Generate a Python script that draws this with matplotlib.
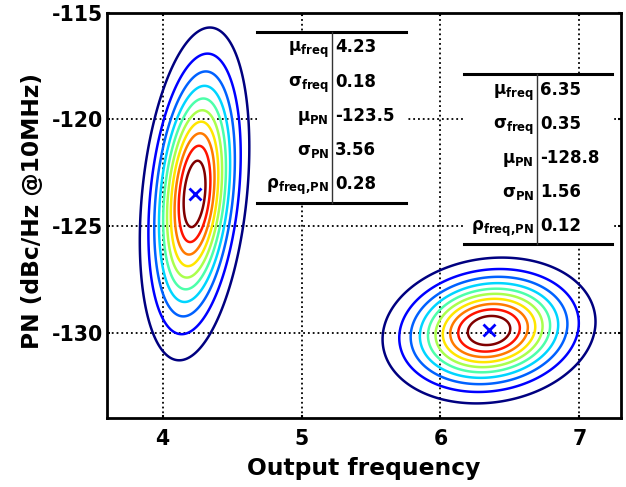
import numpy as np
import matplotlib
matplotlib.use('Agg')
import matplotlib.pyplot as plt
from matplotlib.patches import Rectangle

plt.rcParams['font.family'] = ['DejaVu Sans']
plt.rcParams['font.weight'] = 'bold'
plt.rcParams['axes.unicode_minus'] = False
plt.rcParams['mathtext.fontset'] = 'custom'
plt.rcParams['mathtext.rm'] = 'DejaVu Sans:bold'
plt.rcParams['mathtext.it'] = 'DejaVu Sans:bold'
plt.rcParams['mathtext.bf'] = 'DejaVu Sans:bold'

# distribution parameters (as drawn)
mu_freq = [4.23, 6.35]
sig_freq = [0.18, 0.35]
mu_pn = [-123.5, -129.9]
sig_pn = [3.56, 1.56]
rho = [0.28, 0.12]

# table contents
row_labels = ['μ$_{freq}$', 'σ$_{freq}$', 'μ$_{PN}$', 'σ$_{PN}$', 'ρ$_{freq{,}PN}$']
table1_vals = ['4.23', '0.18', '-123.5', '3.56', '0.28']
table2_vals = ['6.35', '0.35', '-128.8', '1.56', '0.12']

xticks = [4, 5, 6, 7]
yticks = [-130, -125, -120, -115]

fig = plt.figure(figsize=(6.26, 4.87), dpi=100)
ax = fig.add_axes([0.171, 0.1417, 0.821, 0.8326])

n_levels = 10
levels = np.arange(1, n_levels + 1) / (n_levels + 1)
for mx, sx, my, sy, r in zip(mu_freq, sig_freq, mu_pn, sig_pn, rho):
    xs = np.linspace(mx - 3 * sx, mx + 3 * sx, 300)
    ys = np.linspace(my - 3 * sy, my + 3 * sy, 300)
    X, Y = np.meshgrid(xs, ys)
    u = (X - mx) / sx
    v = (Y - my) / sy
    Z = np.exp(-(u**2 - 2 * r * u * v + v**2) / (2 * (1 - r**2)))
    ax.contour(X, Y, Z, levels=levels, cmap='jet', linewidths=1.8, zorder=2)
    ax.plot(mx, my, 'x', color='#0000ff', ms=8, mew=2, zorder=4)

ax.set_xlim(3.6, 7.3)
ax.set_ylim(-134, -115)
ax.set_xticks(xticks)
ax.set_yticks(yticks)
ax.grid(True, linestyle=':', color='black', linewidth=1.3)
ax.tick_params(direction='in', length=2.5, width=1.5, labelsize=14.8, top=True, right=True)
ax.tick_params(axis='x', pad=8)
ax.tick_params(axis='y', pad=3)
for s in ax.spines.values():
    s.set_linewidth(2)
ax.set_xlabel('Output frequency', fontsize=16.8, fontweight='bold', labelpad=6)
ax.set_ylabel('PN (dBc/Hz @10MHz)', fontsize=16.8, fontweight='bold', labelpad=4)
ax.yaxis.set_label_coords(-0.122, 0.51)


def draw_table(x0, x1, xv, ytop, ybot, labels, vals):
    tr = ax.transAxes
    ax.add_patch(Rectangle((x0, ybot), x1 - x0, ytop - ybot, transform=tr,
                           facecolor='white', edgecolor='none', zorder=3))
    ax.plot([x0, x1], [ytop, ytop], color='black', lw=2.2, transform=tr, zorder=5)
    ax.plot([x0, x1], [ybot, ybot], color='black', lw=2.2, transform=tr, zorder=5)
    ax.plot([xv, xv], [ytop, ybot], color='#333333', lw=1, transform=tr, zorder=5)
    h = (ytop - ybot) / len(labels)
    dx = 0.006
    for i, (lab, val) in enumerate(zip(labels, vals)):
        yb = ytop - 0.051 - i * h
        ax.text(xv - dx, yb, lab, transform=tr, ha='right', va='baseline',
                fontsize=12, zorder=6)
        ax.text(xv + dx, yb, val, transform=tr, ha='left', va='baseline',
                fontsize=12, zorder=6)


draw_table(0.2918, 0.5817, 0.4377, 0.9527, 0.5302, row_labels, table1_vals)
draw_table(0.6946, 0.9825, 0.8366, 0.8483, 0.4291, row_labels, table2_vals)

fig.savefig('out.png', dpi=100)
